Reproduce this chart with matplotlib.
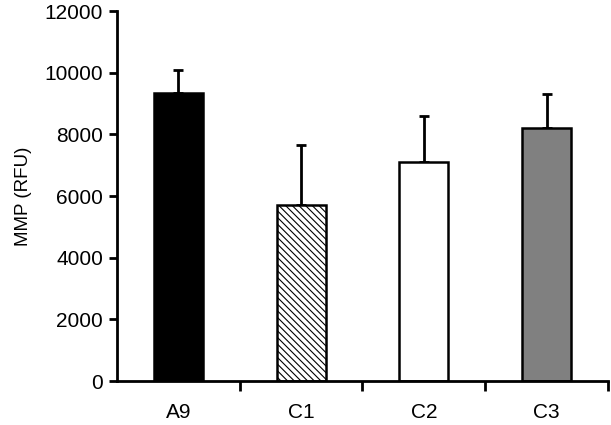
import matplotlib
matplotlib.use("Agg")
import matplotlib.pyplot as plt
import numpy as np

plt.rcParams['font.family'] = ['Liberation Sans', 'DejaVu Sans']
plt.rcParams['hatch.linewidth'] = 0.8

groups = ['A9', 'C1', 'C2', 'C3']
means = [9350, 5700, 7100, 8200]
upper_err = [750, 1950, 1500, 1100]
fills = ['black', 'white', 'white', '#808080']
hatches = [None, '\\\\\\\\\\', None, None]

fig = plt.figure(figsize=(6.11, 4.25), dpi=100)
ax = fig.add_axes([0.1915, 0.1035, 0.8035, 0.8705])

x = np.arange(len(groups))
for i in range(len(groups)):
    ax.bar(x[i], means[i], width=0.4, color=fills[i], edgecolor='black',
           linewidth=1.8, hatch=hatches[i], zorder=2)
    ax.errorbar(x[i], means[i], yerr=[[0], [upper_err[i]]], fmt='none',
                ecolor='black', elinewidth=2, capsize=3.6, capthick=2, zorder=1)

ax.set_xlim(-0.5, len(groups) - 0.5)
ax.set_ylim(0, 12000)
ax.set_yticks(np.arange(0, 12001, 2000))
ax.set_xticks(x + 0.5, minor=False)
ax.set_xticklabels([])
ax.set_xticks(x, minor=True)
ax.set_xticklabels(groups, minor=True)
ax.tick_params(axis='x', which='minor', length=0, pad=16, labelsize=15)
ax.tick_params(axis='x', which='major', length=7, width=2, direction='out')
ax.tick_params(axis='y', length=6, width=2, direction='out', labelsize=15, pad=4)

ax.spines['top'].set_visible(False)
ax.spines['right'].set_visible(False)
ax.spines['left'].set_linewidth(2)
ax.spines['bottom'].set_linewidth(2)

ax.set_ylabel('MMP (RFU)', fontsize=13.5, labelpad=9)

fig.savefig('out.png', dpi=100)
